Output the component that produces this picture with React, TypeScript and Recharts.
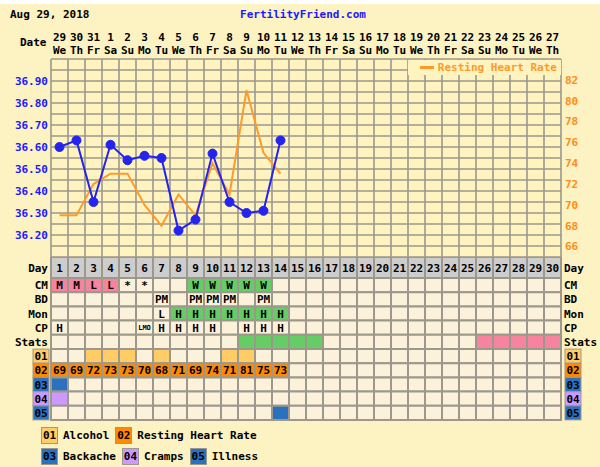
import React from "react";
import {
  ComposedChart,
  BarChart,
  Bar,
  Line,
  XAxis,
  YAxis,
  CartesianGrid,
  Legend,
  Cell,
  LabelList,
} from "recharts";

const days = [
  1, 2, 3, 4, 5, 6, 7, 8, 9, 10, 11, 12, 13, 14, 15, 16, 17, 18, 19, 20, 21,
  22, 23, 24, 25, 26, 27, 28, 29, 30,
];
const dateLabels = [
  "29", "30", "31", "1", "2", "3", "4", "5", "6", "7", "8", "9", "10", "11",
  "12", "13", "14", "15", "16", "17", "18", "19", "20", "21", "22", "23", "24",
  "25", "26", "27",
];
const weekdays = [
  "We", "Th", "Fr", "Sa", "Su", "Mo", "Tu", "We", "Th", "Fr", "Sa", "Su", "Mo",
  "Tu", "We", "Th", "Fr", "Sa", "Su", "Mo", "Tu", "We", "Th", "Fr", "Sa", "Su",
  "Mo", "Tu", "We", "Th",
];

// temperatures (C) and resting heart rate, days 1-14
const temps = [
  36.6, 36.63, 36.35, 36.61, 36.54, 36.56, 36.55, 36.22, 36.27, 36.57, 36.35,
  36.3, 36.31, 36.63,
];
const heartRate = [69, 69, 72, 73, 73, 70, 68, 71, 69, 74, 71, 81, 75, 73];

const tempTicks = [
  36.1, 36.15, 36.2, 36.25, 36.3, 36.35, 36.4, 36.45, 36.5, 36.55, 36.6, 36.65,
  36.7, 36.75, 36.8, 36.85, 36.9, 36.95, 37.0,
];
const hrTicks = [66, 68, 70, 72, 74, 76, 78, 80, 82];

// chart rows
const cervicalMucus = ["M", "M", "L", "L", "*", "*", "", "", "W", "W", "W", "W", "W"];
const intercourse = ["", "", "", "", "", "", "PM", "", "PM", "PM", "PM", "", "PM"];
const monitor = ["", "", "", "", "", "", "L", "H", "H", "H", "H", "H", "H", "H"];
const cervixPos = ["H", "", "", "", "", "LMO", "H", "H", "H", "H", "", "H", "H", "H"];
const fertileDays = [12, 13, 14, 15, 16];
const periodDays = [26, 27, 28, 29, 30];
const alcoholDays = [3, 4, 5, 7, 11, 12];
const backacheDays = [1];
const crampsDays = [1];
const illnessDays = [14];

const FONT = "'DejaVu Sans Mono', monospace";
const BG = "#fdf2c2";
const PLOT_BG = "#fff4c0";
const CELL = "#fcf2dc";
const LINE = "#9c988c";
const PINK = "#f7849f";
const GREEN = "#66cc66";
const LIGHT_ORANGE = "#ffcc66";
const ORANGE = "#ff8a00";
const BLUE_BOX = "#2a72c0";
const PURPLE = "#cc99ff";
const TEMP_BLUE = "#2424ee";
const HR_ORANGE = "#ff9a2a";

const textStyle: React.CSSProperties = {
  fontFamily: FONT,
  fontWeight: "bold",
  fontSize: 11,
};

type Row = {
  key: string;
  label: string;
  box?: string;
  h: number;
  fill: (i: number) => string;
  text: (i: number) => string;
};

const rows: Row[] = [
  { key: "day", label: "Day", h: 21, fill: () => "#cdcdcd", text: (i) => String(days[i]) },
  {
    key: "cm",
    label: "CM",
    h: 14.2,
    fill: (i) => (["M", "L"].includes(cervicalMucus[i]) ? PINK : cervicalMucus[i] === "W" ? GREEN : CELL),
    text: (i) => cervicalMucus[i] ?? "",
  },
  { key: "bd", label: "BD", h: 14.2, fill: () => CELL, text: (i) => intercourse[i] ?? "" },
  {
    key: "mon",
    label: "Mon",
    h: 14.2,
    fill: (i) => (monitor[i] === "H" ? GREEN : CELL),
    text: (i) => monitor[i] ?? "",
  },
  { key: "cp", label: "CP", h: 14.2, fill: () => CELL, text: (i) => cervixPos[i] ?? "" },
  {
    key: "stats",
    label: "Stats",
    h: 14.2,
    fill: (i) => (fertileDays.includes(days[i]) ? GREEN : periodDays.includes(days[i]) ? PINK : CELL),
    text: () => "",
  },
  {
    key: "s1",
    label: "",
    box: "01",
    h: 14.2,
    fill: (i) => (alcoholDays.includes(days[i]) ? LIGHT_ORANGE : CELL),
    text: () => "",
  },
  {
    key: "s2",
    label: "",
    box: "02",
    h: 14.2,
    fill: (i) => (heartRate[i] !== undefined ? ORANGE : CELL),
    text: (i) => (heartRate[i] !== undefined ? String(heartRate[i]) : ""),
  },
  {
    key: "s3",
    label: "",
    box: "03",
    h: 14.2,
    fill: (i) => (backacheDays.includes(days[i]) ? BLUE_BOX : CELL),
    text: () => "",
  },
  {
    key: "s4",
    label: "",
    box: "04",
    h: 14.2,
    fill: (i) => (crampsDays.includes(days[i]) ? PURPLE : CELL),
    text: () => "",
  },
  {
    key: "s5",
    label: "",
    box: "05",
    h: 14.2,
    fill: (i) => (illnessDays.includes(days[i]) ? BLUE_BOX : CELL),
    text: () => "",
  },
];

const boxColors: Record<string, string> = {
  "01": LIGHT_ORANGE,
  "02": ORANGE,
  "03": BLUE_BOX,
  "04": PURPLE,
  "05": BLUE_BOX,
};

const tableTotal = rows.reduce((s, r) => s + r.h, 0);
const rowCenters = rows.map(
  (r, i) => rows.slice(0, i).reduce((s, q) => s + q.h, 0) + r.h / 2
);

const chartData = days.map((d, i) => ({
  day: d,
  temp: temps[i] ?? null,
  hr: heartRate[i] ?? null,
}));

const tableData = days.map((d, i) => {
  const o: Record<string, any> = { day: d };
  rows.forEach((r) => {
    o["h_" + r.key] = r.h;
    o["t_" + r.key] = r.text(i);
  });
  return o;
});

const DateTick = (props: any) => {
  const { x, y, index } = props;
  return (
    <g>
      <text x={x} y={y - 18} textAnchor="middle" fill="#000" style={textStyle}>
        {dateLabels[index]}
      </text>
      <text x={x} y={y - 5} textAnchor="middle" fill="#000" style={textStyle}>
        {weekdays[index]}
      </text>
    </g>
  );
};

const RowTick = (props: any) => {
  const { x, y, index, side } = props;
  const row = rows[index];
  if (!row) return null;
  if (row.box) {
    const bx = side === "left" ? x - 18 : x + 4;
    return (
      <g>
        <rect x={bx} y={y - 7} width={16} height={14} fill={boxColors[row.box]} stroke={LINE} strokeWidth={1} />
        <text x={bx + 8} y={y + 4} textAnchor="middle" fill="#000" style={textStyle}>
          {row.box}
        </text>
      </g>
    );
  }
  return (
    <text
      x={side === "left" ? x - 3 : x + 3}
      y={y + 4}
      textAnchor={side === "left" ? "end" : "start"}
      fill="#000"
      style={textStyle}
    >
      {row.label}
    </text>
  );
};

const CellText = (props: any) => {
  const vb = props.viewBox ?? props;
  const { x, y, width, height } = vb;
  const value = props.value;
  if (!value) return null;
  const small = String(value).length > 2;
  return (
    <text
      x={x + width / 2}
      y={y + height / 2 + (small ? 2.5 : 4)}
      textAnchor="middle"
      fill="#000"
      style={{ ...textStyle, fontSize: small ? 7 : 11 }}
    >
      {value}
    </text>
  );
};

const HrLegend = () => (
  <div
    style={{
      display: "flex",
      alignItems: "center",
      justifyContent: "flex-end",
      height: 15,
      background: PLOT_BG,
      color: HR_ORANGE,
      ...textStyle,
    }}
  >
    <span style={{ display: "inline-block", width: 14, height: 3, background: HR_ORANGE, marginRight: 4 }} />
    <span style={{ paddingRight: 4 }}>Resting Heart Rate</span>
  </div>
);

const LegendBox = ({ code }: { code: string }) => (
  <span
    style={{
      display: "inline-block",
      width: 15,
      height: 15,
      lineHeight: "15px",
      textAlign: "center",
      background: boxColors[code],
      border: `1px solid ${LINE}`,
      marginRight: 5,
      color: "#000",
    }}
  >
    {code}
  </span>
);

const App = () => {
  return (
    <div style={{ position: "absolute", left: 0, top: 0, width: 600, height: 467, background: "#fff" }}>
      <div style={{ position: "absolute", left: 0, top: 4, width: 600, height: 463, background: BG }} />
      <div style={{ position: "absolute", left: 10, top: 8, color: "#000", ...textStyle }}>Aug 29, 2018</div>
      <div style={{ position: "absolute", left: 0, width: 606, top: 8, textAlign: "center", color: "#1a1aff", ...textStyle }}>
        FertilityFriend.com
      </div>
      <div style={{ position: "absolute", left: 20, top: 36, color: "#000", ...textStyle }}>Date</div>

      <div style={{ position: "absolute", left: 0, top: 0 }}>
        <ComposedChart
          width={600}
          height={258}
          data={chartData}
          margin={{ top: 29, right: 0, bottom: 1, left: 0 }}
        >
          <CartesianGrid
            yAxisId="t"
            stroke={LINE}
            strokeWidth={1.6}
            fill={PLOT_BG}
            fillOpacity={1}
            verticalCoordinatesGenerator={({ offset }: any) =>
              days.concat([0]).map((_, i) => offset.left + (i * offset.width) / days.length)
            }
          />
          <XAxis
            dataKey="day"
            orientation="top"
            scale="band"
            height={30}
            interval={0}
            tick={<DateTick />}
            tickLine={false}
            axisLine={false}
            tickSize={0}
            tickMargin={0}
          />
          <YAxis
            yAxisId="t"
            width={51}
            domain={[36.1, 37.0]}
            ticks={tempTicks}
            interval={0}
            allowDataOverflow
            axisLine={false}
            tickLine={false}
            tickSize={0}
            tickMargin={3}
            tick={{ fill: "#1a1aff", ...textStyle }}
            tickFormatter={(v: number) => {
              const c = Math.round(v * 100);
              return c % 10 === 0 && c > 3610 && c < 3700 ? v.toFixed(2) : "";
            }}
          />
          <YAxis
            yAxisId="hr"
            orientation="right"
            width={39}
            domain={[65, 84]}
            ticks={hrTicks}
            interval={0}
            allowDataOverflow
            axisLine={false}
            tickLine={false}
            tickSize={0}
            tickMargin={4}
            tick={{ fill: "#ff8c1a", textAnchor: "start", ...textStyle }}
          />
          <Legend
            layout="vertical"
            verticalAlign="middle"
            align="center"
            content={<HrLegend />}
            wrapperStyle={{ top: 60, right: 39, left: "auto", bottom: "auto", width: 153, height: 15 }}
          />
          <Line
            yAxisId="hr"
            dataKey="hr"
            name="Resting Heart Rate"
            stroke={HR_ORANGE}
            strokeWidth={2}
            dot={false}
            isAnimationActive={false}
          />
          <Line
            yAxisId="t"
            dataKey="temp"
            stroke={TEMP_BLUE}
            strokeWidth={2}
            dot={{ r: 4.5, fill: TEMP_BLUE, stroke: TEMP_BLUE, strokeWidth: 1 }}
            isAnimationActive={false}
            legendType="none"
          />
        </ComposedChart>
      </div>

      <div style={{ position: "absolute", left: 0, top: 257 }}>
        <BarChart
          width={600}
          height={tableTotal + 3}
          data={tableData}
          margin={{ top: 0, right: 0, bottom: 3, left: 0 }}
          barCategoryGap={0}
          barGap={0}
        >
          <XAxis dataKey="day" hide />
          <YAxis
            yAxisId="l"
            type="number"
            width={51}
            reversed
            domain={[0, tableTotal]}
            ticks={rowCenters}
            interval={0}
            axisLine={false}
            tickLine={false}
            tickSize={0}
            tickMargin={0}
            tick={<RowTick side="left" />}
          />
          <YAxis
            yAxisId="r"
            orientation="right"
            type="number"
            width={39}
            reversed
            domain={[0, tableTotal]}
            allowDataOverflow
            ticks={rowCenters}
            interval={0}
            axisLine={false}
            tickLine={false}
            tickSize={0}
            tickMargin={0}
            tick={<RowTick side="right" />}
          />
          {rows.map((r) => (
            <Bar
              key={r.key}
              yAxisId="l"
              dataKey={"h_" + r.key}
              stackId="table"
              stroke={LINE}
              strokeWidth={2}
              isAnimationActive={false}
            >
              {days.map((d, i) => (
                <Cell key={d} fill={r.fill(i)} />
              ))}
              <LabelList dataKey={"t_" + r.key} content={<CellText />} />
            </Bar>
          ))}
        </BarChart>
      </div>

      <div style={{ position: "absolute", left: 41, top: 427, color: "#000", ...textStyle, display: "flex", alignItems: "center" }}>
        <LegendBox code="01" />
        <span style={{ marginRight: 6 }}>Alcohol</span>
        <LegendBox code="02" />
        <span>Resting Heart Rate</span>
      </div>
      <div style={{ position: "absolute", left: 41, top: 448, color: "#000", ...textStyle, display: "flex", alignItems: "center" }}>
        <LegendBox code="03" />
        <span style={{ marginRight: 6 }}>Backache</span>
        <LegendBox code="04" />
        <span style={{ marginRight: 6 }}>Cramps</span>
        <LegendBox code="05" />
        <span>Illness</span>
      </div>
    </div>
  );
};

export default App;
